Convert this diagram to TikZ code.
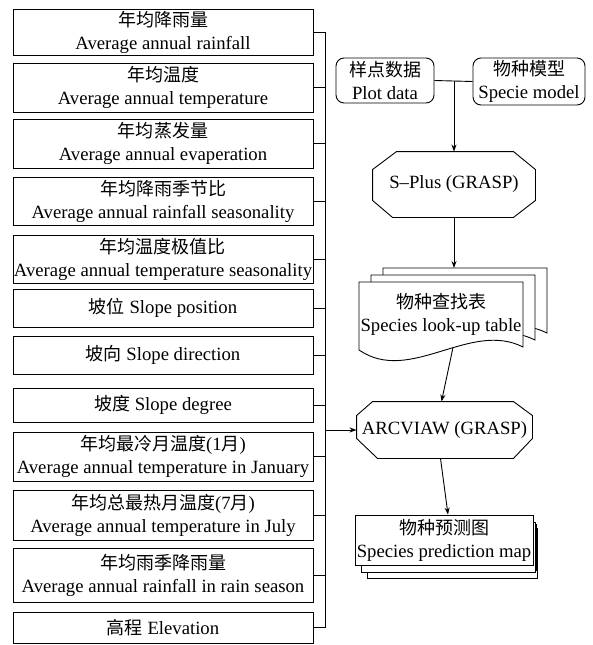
\documentclass[tikz,border=0pt]{standalone}
\usepackage{fontspec}
\setmainfont{Liberation Serif}
\newfontfamily\cjk{Noto Sans CJK SC}
\usetikzlibrary{arrows.meta,calc}
\newcommand\zh[1]{{\cjk\fontsize{18}{23}\selectfont #1}}
\tikzset{
  every node/.style={font=\fontsize{18.7}{23}\selectfont},
  lbox/.style={draw, rectangle, minimum width=300pt, inner sep=0pt, align=center},
  rbox/.style={draw, rounded corners=8pt, inner sep=0pt, align=center},
  plain/.style={inner sep=0pt, align=center},
  arr/.style={-{Stealth[length=7pt,width=5pt]}},
  docshape/.style={draw, fill=white}
}
\begin{document}
\begin{tikzpicture}[x=1pt,y=-1pt,line width=0.9pt]
\useasboundingbox (0,0) rectangle (593,645);
\coordinate (bus) at (325,0);
% left boxes
\node[lbox, minimum height=46pt] (b1) at (163,32) {\zh{年均降雨量}\\Average annual rainfall};
\node[lbox, minimum height=49pt] (b2) at (163,87.5) {\zh{年均温度}\\Average annual temperature};
\node[lbox, minimum height=49pt] (b3) at (163,143.5) {\zh{年均蒸发量}\\Average annual evaperation};
\node[lbox, minimum height=48pt] (b4) at (163,201) {\zh{年均降雨季节比}\\Average annual rainfall seasonality};
\node[lbox, minimum height=48pt] (b5) at (163,259) {\zh{年均温度极值比}\\Average annual temperature seasonality};
\node[lbox, minimum height=38pt] (b6) at (163,308) {\zh{坡位} Slope position};
\node[lbox, minimum height=38pt] (b7) at (163,355) {\zh{坡向} Slope direction};
\node[lbox, minimum height=34pt] (b8) at (163,405) {\zh{坡度} Slope degree};
\node[lbox, minimum height=49pt] (b9) at (163,456.5) {\zh{年均最冷月温度}(1\zh{月})\\Average annual temperature in January};
\node[lbox, minimum height=50pt] (b10) at (163,515) {\zh{年均总最热月温度}(7\zh{月})\\Average annual temperature in July};
\node[lbox, minimum height=54pt] (b11) at (163,575) {\zh{年均雨季降雨量}\\Average annual rainfall in rain season};
\node[lbox, minimum height=31pt] (b12) at (163,627.5) {\zh{高程} Elevation};
\foreach \i in {1,...,12} { \draw (b\i.east) -- (b\i.east -| bus); }
\draw (b1.east -| bus) -- (b12.east -| bus);

% top right inputs
\node[rbox, minimum width=98pt, minimum height=45pt] (plot) at (385,80.5) {\zh{样点数据}\\Plot data};
\node[rbox, minimum width=112pt, minimum height=47pt] (model) at (529,81.5) {\zh{物种模型}\\Specie model};
\draw (plot.east) -- (model.west);

% S-Plus octagon
\node[plain, minimum width=162pt, minimum height=65pt] (sp) at (454,184.5) {S--Plus (GRASP)};
\draw ([xshift=24pt]sp.north west) -- ([xshift=-22pt]sp.north east) -- ([yshift=-18pt]sp.north east)
  -- ([yshift=17pt]sp.south east) -- ([xshift=-22pt]sp.south east) -- ([xshift=20pt]sp.south west)
  -- ([yshift=17pt]sp.south west) -- ([yshift=-18pt]sp.north west) -- cycle;
\draw[arr] (plot.east -| sp.north) -- (sp.north);

% document stack
\foreach \dx/\dy in {24/-14,12/-7,0/0}{
  \draw[docshape] ($(359,282)+(\dx,\dy)$) -- ($(523,282)+(\dx,\dy)$) -- ($(523,347)+(\dx,\dy)$)
    .. controls ($(470,320)+(\dx,\dy)$) and ($(410,385)+(\dx,\dy)$) .. ($(359,350)+(\dx,\dy)$) -- cycle;
}
\node[plain, minimum width=188pt, minimum height=10pt, anchor=north] (docback) at (453,268) {};
\node[plain, minimum width=164pt, minimum height=66pt] (doc) at (441,314) {\zh{物种查找表}\\Species look-up table};
\draw[arr] (sp.south) -- (sp.south |- docback.north);

% ARCVIAW octagon
\node[plain, minimum width=175pt, minimum height=56pt] (arc) at (444.5,430) {ARCVIAW (GRASP)};
\draw ([xshift=16pt]arc.north west) -- ([xshift=-19pt]arc.north east) -- ([yshift=-14pt]arc.north east)
  -- ([yshift=20pt]arc.south east) -- ([xshift=-19pt]arc.south east) -- ([xshift=21pt]arc.south west)
  -- ([yshift=20pt]arc.south west) -- ([yshift=-14pt]arc.north west) -- cycle;
\draw[arr] ([xshift=12pt]doc.south) -- ([xshift=-3pt]arc.north);
\draw[arr] (arc.west -| bus) -- (arc.west);

% prediction map stack
\draw[fill=white] (367,528) rectangle (537,578);
\draw[fill=white] (361,522) rectangle (535,572);
\draw[line width=2pt] (536,524) -- (536,571);
\node[draw, fill=white, minimum width=178pt, minimum height=50pt, inner sep=0pt, align=center] (map) at (444,540) {\zh{物种预测图}\\Species prediction map};
\draw[arr] ([xshift=-4pt]arc.south) -- ([xshift=4pt]map.north);
\end{tikzpicture}
\end{document}
